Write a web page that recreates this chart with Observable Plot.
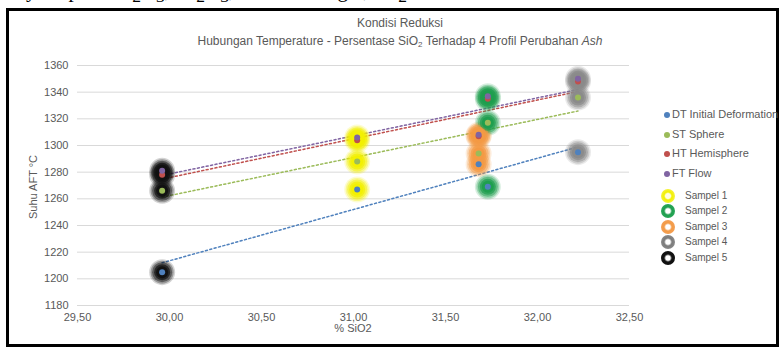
<!DOCTYPE html>
<html>
<head>
<meta charset="utf-8">
<script src="https://cdn.jsdelivr.net/npm/d3@7"></script>
<script src="https://cdn.jsdelivr.net/npm/@observablehq/plot@0.6"></script>
<style>
  html, body { margin: 0; padding: 0; background: #fff; width: 779px; height: 347px; overflow: hidden; position: relative; font-family: "Liberation Sans", Arial, sans-serif; }
  .abs { position: absolute; white-space: nowrap; }
  #frame { position: absolute; left: 6px; top: 8px; width: 767px; height: 333px; border: 3px solid #000; }
  #doc { left: 26px; top: -22px; font-family: "Liberation Serif", serif; font-size: 21px; color: #000; }
  #title { left: 0; width: 800px; top: 16px; text-align: center; font-size: 12px; color: #595959; }
  #subtitle { left: 0; width: 800px; top: 34px; text-align: center; font-size: 12px; color: #595959; }
  #subtitle sub { font-size: 8px; vertical-align: -2px; line-height: 0; }
  #ylabel { left: 33px; top: 187px; transform: translate(-50%, -50%) rotate(-90deg); font-size: 11px; color: #595959; }
  #xlabel { left: 353px; top: 328px; transform: translate(-50%, -50%); font-size: 11px; color: #595959; }
  .leg { font-size: 11px; color: #595959; }
  .sleg { font-size: 10px; color: #595959; }
  .sw { position: absolute; border-radius: 50%; }
</style>
</head>
<body>
<div id="frame"></div>
<div id="doc" class="abs">ya seperti Al<sub>2</sub>O<sub>3</sub>, Fe<sub>2</sub>O<sub>3</sub>, CaO dan MgO, Na<sub>2</sub>O.</div>
<div id="chart" class="abs" style="left:0;top:0"></div>
<div id="title" class="abs">Kondisi Reduksi</div>
<div id="subtitle" class="abs">Hubungan Temperature - Persentase SiO<sub>2</sub> Terhadap 4 Profil Perubahan <i>Ash</i></div>
<div id="ylabel" class="abs">Suhu AFT °C</div>
<div id="xlabel" class="abs">% SiO2</div>
<div id="legend"></div>
<script>
// ---- data ----
const seriesNames = ["DT Initial Deformation", "ST Sphere", "HT Hemisphere", "FT Flow"];
const seriesColors = ["#4f81bd", "#9bbb59", "#c0504d", "#8064a2"];
const sampleNames = ["Sampel 1", "Sampel 2", "Sampel 3", "Sampel 4", "Sampel 5"];
const sampleColors = ["#f2f000", "#1f9e4e", "#f39a45", "#8a8a8a", "#111111"];
const sio2 = [31.02, 31.73, 31.68, 32.22, 29.96];
const dtValues = [1267, 1269, 1286, 1295, 1205];
const stValues = [1288, 1317, 1294, 1336, 1266];
const htValues = [1304, 1335, 1307, 1348, 1278];
const ftValues = [1306, 1337, 1308, 1350, 1281];
const xTicks = [29.5, 30, 30.5, 31, 31.5, 32, 32.5];
const yTicks = [1180, 1200, 1220, 1240, 1260, 1280, 1300, 1320, 1340, 1360];

const seriesValues = [dtValues, stValues, htValues, ftValues];
const data = [];
sampleNames.forEach((s, i) => {
  seriesNames.forEach((n, j) => {
    data.push({sample: s, series: n, x: sio2[i], y: seriesValues[j][i]});
  });
});
const fmt = d => d.toFixed(2).replace(".", ",");

// soft glow built from concentric translucent discs
const glowLayers = [[13, 0.18], [11.5, 0.3], [10, 0.45], [8, 0.7], [6, 0.95]];

const chart = Plot.plot({
  width: 779,
  height: 347,
  marginLeft: 77,
  marginRight: 150,
  marginTop: 65,
  marginBottom: 42,
  style: {fontFamily: "Liberation Sans, Arial, sans-serif", fontSize: "11px", color: "#595959", background: "transparent"},
  x: {domain: [29.5, 32.5], label: null},
  y: {domain: [1180, 1360], label: null},
  color: {domain: [...seriesNames, ...sampleNames], range: [...seriesColors, ...sampleColors]},
  marks: [
    Plot.gridY(yTicks, {stroke: "#d9d9d9", strokeOpacity: 1, strokeWidth: 1}),
    Plot.axisY(yTicks, {tickSize: 0, tickPadding: 9, tickFormat: d => String(d), label: null}),
    Plot.axisX(xTicks, {tickSize: 0, tickPadding: 8, tickFormat: fmt, label: null}),
    Plot.linearRegressionY(data, {x: "x", y: "y", stroke: "series", z: "series", ci: 0, strokeDasharray: "2,2.5", strokeWidth: 1.5}),
    ...glowLayers.map(([r, o]) => Plot.dot(data, {x: "x", y: "y", r, fill: "sample", stroke: "none", fillOpacity: o})),
    Plot.dot(data, {x: "x", y: "y", r: 3, fill: "series", stroke: "none"})
  ]
});
document.getElementById("chart").appendChild(chart);

// legend
const leg = document.getElementById("legend");
const seriesY = [115, 135, 154, 174];
seriesNames.forEach((n, i) => {
  const dot = document.createElement("div");
  dot.className = "sw";
  Object.assign(dot.style, {left: "664px", top: (seriesY[i] - 3) + "px", width: "6px", height: "6px", background: seriesColors[i]});
  leg.appendChild(dot);
  const t = document.createElement("div");
  t.className = "abs leg";
  t.textContent = n;
  Object.assign(t.style, {left: "672px", top: (seriesY[i] - 7) + "px"});
  leg.appendChild(t);
});
const sampleY = [196, 211, 227, 242, 258];
const sampleGrad = [
  "radial-gradient(circle, #fffde0 0 25%, #f2f000 40%, #f5f23a 70%, #f8f7a0 100%)",
  "radial-gradient(circle, #ffffff 0 22%, #1f9e4e 40%, #2aa85a 75%, #7fcf98 100%)",
  "radial-gradient(circle, #ffffff 0 22%, #f39a45 40%, #f3a055 75%, #f8c99a 100%)",
  "radial-gradient(circle, #ffffff 0 22%, #7a7a7a 40%, #8a8a8a 75%, #c4c4c4 100%)",
  "radial-gradient(circle, #ffffff 0 22%, #111 40%, #111 80%, #555 100%)"
];
sampleNames.forEach((n, i) => {
  const dot = document.createElement("div");
  dot.className = "sw";
  Object.assign(dot.style, {left: "661px", top: (sampleY[i] - 7) + "px", width: "14px", height: "14px", background: sampleGrad[i]});
  leg.appendChild(dot);
  const t = document.createElement("div");
  t.className = "abs sleg";
  t.textContent = n;
  Object.assign(t.style, {left: "685px", top: (sampleY[i] - 6) + "px"});
  leg.appendChild(t);
});
</script>
</body>
</html>
